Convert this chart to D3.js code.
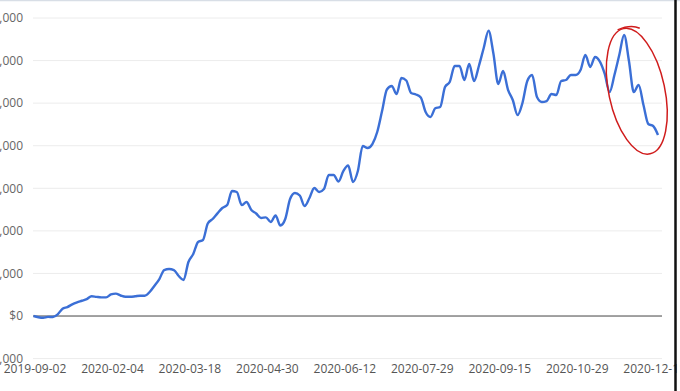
<!DOCTYPE html>
<html><head><meta charset="utf-8">
<script src="https://cdn.jsdelivr.net/npm/d3@7"></script>
<style>
html,body{margin:0;padding:0;background:#fff;overflow:hidden}
svg{display:block}
</style></head>
<body>
<div id="chart"></div>
<script>
// ---- data ----
const values = [
  0,-280,-420,-210,-230,400,1715,2110,2750,3220,
  3590,3990,4650,4510,4390,4390,5070,5260,4820,4530,
  4530,4630,4770,4770,5640,7120,8690,10800,11040,10800,
  9400,8460,12690,14560,17380,17850,21730,22790,24120,25370,
  26070,29360,29130,26070,26780,24900,24080,23020,23180,22080,
  23610,21260,22790,27480,28890,28300,25840,27720,30070,29130,
  29830,33120,33120,31590,34060,35350,31480,34060,39930,39460,
  40400,43220,48150,53200,54020,52140,55900,55320,52380,52030,
  51330,47920,46750,48790,49090,53790,55040,58730,58730,55440,
  59190,55200,58730,62950,67020,61660,54500,57560,53200,50740,
  47210,50030,55200,56610,51440,50270,50500,52140,51920,55200,
  55440,56610,56610,57790,61310,58500,60840,59740,56850,52620,
  56610,61310,66010,59900,52620,54260,49560,45100,44630,42520
];
const tickIndex = [0,16,32,48,64,80,96,112,128];
const tickLabels = ["2019-09-02","2020-02-04","2020-03-18","2020-04-30","2020-06-12","2020-07-29","2020-09-15","2020-10-29","2020-12-11"];
const yTicks = [-10000,0,10000,20000,30000,40000,50000,60000,70000];

// ---- layout ----
const W = 680, H = 391;
const svg = d3.select("#chart").append("svg").attr("width", W).attr("height", H);

const x = d3.scaleLinear().domain([0, 129]).range([33.5, 658]);
const y = d3.scaleLinear().domain([-10000, 70000]).range([358.6, 18]);
const gridX0 = 33, gridX1 = 662;

// gridlines
svg.append("g").selectAll("line").data(yTicks.filter(d => d !== 0)).join("line")
  .attr("x1", gridX0).attr("x2", gridX1)
  .attr("y1", d => y(d)).attr("y2", d => y(d))
  .attr("stroke", "#ececec").attr("stroke-width", 1);

// y labels
const fmt = d => (d < 0 ? "-$" : "$") + d3.format(",")(Math.abs(d));
svg.append("g").selectAll("text").data(yTicks).join("text")
  .attr("x", 23).attr("y", d => y(d)).attr("dy", "0.35em")
  .attr("text-anchor", "end")
  .attr("font-family", "'Open Sans', sans-serif").attr("font-size", 12)
  .attr("fill", "#666")
  .text(fmt);

// zero line
svg.append("line")
  .attr("x1", gridX0).attr("x2", gridX1)
  .attr("y1", y(0)).attr("y2", y(0))
  .attr("stroke", "#444").attr("stroke-width", 1);

// x labels
svg.append("g").selectAll("text").data(tickIndex).join("text")
  .attr("x", d => x(d) + 1.5).attr("y", 373)
  .attr("text-anchor", "middle")
  .attr("font-family", "'Open Sans', sans-serif").attr("font-size", 12)
  .attr("fill", "#555")
  .text((d, i) => tickLabels[i]);

// line
const line = d3.line().x((d, i) => x(i)).y(d => y(d)).curve(d3.curveMonotoneX);
svg.append("path").datum(values)
  .attr("d", line)
  .attr("fill", "none").attr("stroke", "#3b6fd6").attr("stroke-width", 2.4)
  .attr("stroke-linejoin", "round");

// red hand-drawn annotation ellipse
const cx = (x(119) + x(129)) / 2 + 3, cy = y(52800);
const g = svg.append("g").attr("transform", `rotate(-12, ${cx}, ${cy})`);
g.append("ellipse").attr("cx", cx).attr("cy", cy).attr("rx", 28).attr("ry", 64)
  .attr("fill", "none").attr("stroke", "#d01c1c").attr("stroke-width", 1.5);
g.append("path")
  .attr("d", `M${cx - 6},${cy - 64} Q${cx + 8},${cy - 67} ${cx + 16},${cy - 61}`)
  .attr("fill", "none").attr("stroke", "#d01c1c").attr("stroke-width", 1.5);

// frame edges of the screenshot
svg.append("line").attr("x1", 0).attr("x2", W).attr("y1", 0.5).attr("y2", 0.5)
  .attr("stroke", "#d8dee6").attr("stroke-width", 1.5);
svg.append("line").attr("x1", 675.5).attr("x2", 675.5).attr("y1", 0).attr("y2", H)
  .attr("stroke", "#111").attr("stroke-width", 2.5);
</script>
</body></html>
